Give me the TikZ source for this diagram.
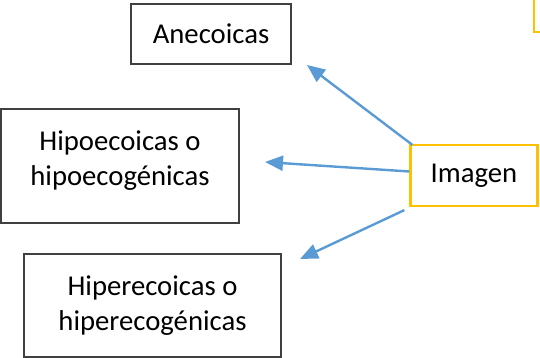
\documentclass[tikz,border=0pt]{standalone}
\usepackage{fontspec}
\setmainfont{Carlito}
\usetikzlibrary{arrows.meta}

\definecolor{boxyellow}{HTML}{FFC000}
\definecolor{arrowblue}{HTML}{5B9BD5}

\begin{document}
\begin{tikzpicture}[x=1pt,y=-1pt,
    box/.style={draw=black!75, line width=1.2pt, align=center, inner sep=0pt,
                font=\fontsize{28.7}{35}\selectfont},
    imgbox/.style={box, draw=boxyellow, line width=2.2pt},
    link/.style={draw=arrowblue, line width=2.4pt, -{Triangle[length=18pt,width=15pt]}}]

\useasboundingbox (0,0) rectangle (540,358);

\node [box, minimum width=160pt, minimum height=60pt] (anec) at (211,34) {Anecoicas};
\node [box, minimum width=238pt, minimum height=114pt] (hipo) at (120,166)
    {\raisebox{5pt}[\height][\depth]{\begin{tabular}{@{}c@{}}Hipoecoicas o\\hipoecogénicas\end{tabular}}};
\node [box, minimum width=257pt, minimum height=103pt] (hiper) at (152.5,305.5)
    {Hiperecoicas o\\hiperecogénicas};
\node [imgbox, minimum width=127pt, minimum height=61pt] (imagen) at (474,175.5) {Imagen};

% corner of a box cut off by the page
\draw [boxyellow, line width=2.2pt] (534,-2) -- (534,32) -- (542,32);

\coordinate (up)   at (307,65);
\coordinate (left) at (265,162);
\coordinate (down) at (300,259);

\draw [link] ([shift={(3pt,-1pt)}]imagen.north west) -- (up);
\draw [link] ([yshift=4pt]imagen.west) -- (left);
\draw [link] ([shift={(-5pt,-3pt)}]imagen.south west) -- (down);

\end{tikzpicture}
\end{document}
